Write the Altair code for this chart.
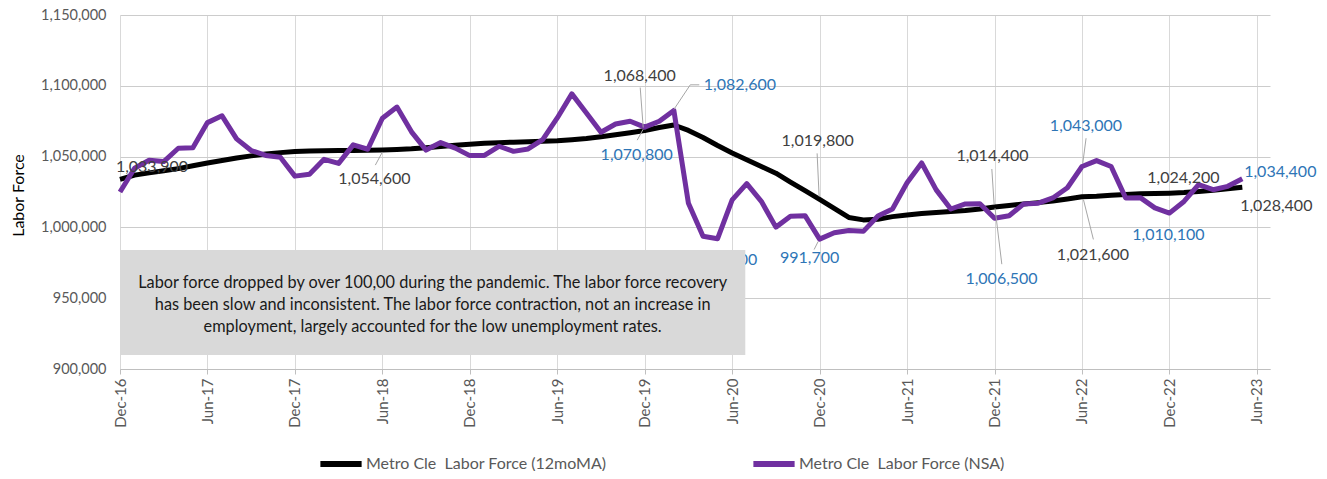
import altair as alt
import pandas as pd

# ---------------- data ----------------
TICK_LABELS = ["Dec-16", "Jun-17", "Dec-17", "Jun-18", "Dec-18", "Jun-19", "Dec-19",
               "Jun-20", "Dec-20", "Jun-21", "Dec-21", "Jun-22", "Dec-22", "Jun-23"]
MONTHS = pd.date_range("2016-12-01", periods=78, freq="MS").strftime("%b-%y").tolist()

MA_12 = [1033900, 1036900, 1038500, 1040000, 1041500, 1043500, 1045500, 1047200, 1049000, 1050500,
         1051800, 1052800, 1053600, 1054000, 1054200, 1054300, 1054300, 1054400, 1054600, 1055000,
         1055500, 1056300, 1057200, 1058000, 1058800, 1059400, 1059800, 1060200, 1060500, 1060800,
         1061200, 1061900, 1062800, 1064000, 1065400, 1066800, 1068400, 1070500, 1072300, 1068500,
         1063500, 1057800, 1052600, 1047800, 1043000, 1038300, 1032000, 1026000, 1019800, 1013500,
         1007000, 1005300, 1005800, 1007600, 1008800, 1009800, 1010600, 1011300, 1012000, 1013000,
         1014400, 1015500, 1016500, 1017500, 1018600, 1020000, 1021600, 1022000, 1022700, 1023300,
         1023800, 1024000, 1024200, 1024600, 1025300, 1026300, 1027300, 1028400]

NSA = [1025000, 1041800, 1047500, 1046500, 1055900, 1056200, 1074000, 1078800, 1062500, 1054300,
       1050800, 1049500, 1036200, 1037600, 1048100, 1045200, 1058300, 1055200, 1077100, 1085000,
       1067500, 1054600, 1059900, 1056000, 1050700, 1050800, 1057300, 1053700, 1055400, 1062000,
       1077300, 1094300, 1080800, 1067200, 1073000, 1075000, 1070800, 1075000, 1082600, 1017000,
       993800, 992000, 1019400, 1030900, 1018400, 1000200, 1007800, 1008300, 991700, 996200,
       997800, 997200, 1008000, 1013000, 1031500, 1045500, 1026500, 1013000, 1016600, 1016700,
       1006500, 1008200, 1016600, 1017100, 1020800, 1028000, 1043000, 1047200, 1043000, 1020800,
       1021000, 1013800, 1010100, 1018300, 1030200, 1026600, 1029000, 1034400]

Y_TICKS = [900000, 950000, 1000000, 1050000, 1100000, 1150000]

SERIES = ["Metro Cle  Labor Force (12moMA)", "Metro Cle  Labor Force (NSA)"]
NOTE = ["Labor force dropped by over 100,00 during the pandemic. The labor force recovery",
        "has been slow and inconsistent. The labor force contraction, not an increase in",
        "employment, largely accounted for the low unemployment rates."]

# labelled points: (series index, month index)
LABELLED = [(0, 0), (0, 18), (0, 36), (1, 36), (1, 38), (0, 48), (1, 48), (1, 41),
            (0, 60), (1, 60), (1, 66), (0, 66), (1, 72), (0, 72), (1, 77), (0, 77)]

# ---------------- layout / style ----------------
W, H = 1150, 354
X_MAX = 78.9
Y_MIN, Y_MAX = 900000, 1150000
PX_X = W / X_MAX
PX_Y = H / (Y_MAX - Y_MIN)
FONT = "Lato"
C_DARK = "#404040"
C_BLUE = "#2E75B6"
C_LEAD = "#a6a6a6"
COLORS = ["#000000", "#7030A0"]

LABEL_STYLE = {
    (0, 0): dict(dx=32, dy=-12, lead=[]),
    (0, 18): dict(dx=-8, dy=29, lead=[((0, 2), (-7, 15))]),
    (0, 36): dict(dx=-5, dy=-55, lead=[((-4.5, -43), (-1.5, -3))]),
    (1, 36): dict(dx=-8, dy=28, lead=[((-7.5, 13), (-1.5, 2))]),
    (1, 38): dict(dx=66, dy=-25, lead=[((0, -1), (16.4, -25.6)), ((16.4, -25.6), (25.4, -25.6))]),
    (0, 48): dict(dx=-2, dy=-58, lead=[((-2.5, -46), (-0.5, -3))]),
    (1, 48): dict(dx=-10, dy=19, lead=[((-1.5, 2.4), (-5.5, 10.4))]),
    (1, 41): dict(dx=10, dy=21, lead=[]),
    (0, 60): dict(dx=-2, dy=-51, lead=[((-2.7, -38), (-0.4, -3))]),
    (1, 60): dict(dx=7, dy=61, lead=[((0.5, -10), (7.3, 46))]),
    (1, 66): dict(dx=4, dy=-41, lead=[((0.8, -3.3), (4.1, -28.3))]),
    (0, 66): dict(dx=11, dy=58, lead=[((1.4, 2.6), (11.4, 42.6))]),
    (1, 72): dict(dx=-1, dy=22, lead=[]),
    (0, 72): dict(dx=14, dy=-15, lead=[]),
    (1, 77): dict(dx=38, dy=-6.5, lead=[]),
    (0, 77): dict(dx=34, dy=19, lead=[]),
}

BOX_X = (0, 42.9)
BOX_Y = (909800, 984000)

# ---------------- build ----------------
vals = [MA_12, NSA]
rows = []
for s, arr in enumerate(vals):
    for i, v in enumerate(arr):
        rows.append({"x": i, "month": MONTHS[i], "y": v, "series": SERIES[s]})
df = pd.DataFrame(rows)

x_label_expr = "[" + ",".join("'%s'" % t for t in TICK_LABELS) + "][round(datum.value/6)]"

x_scale = alt.Scale(domain=[0, X_MAX], nice=False, zero=False)
y_scale = alt.Scale(domain=[Y_MIN, Y_MAX], nice=False, zero=False)

x_axis = alt.Axis(values=list(range(0, 79, 6)), labelExpr=x_label_expr, title=None)
y_axis = alt.Axis(values=Y_TICKS, labelExpr="format(datum.value, ',')", title="Labor Force",
                  titleFontWeight=400, titleFontSize=16, labelFontSize=14.5)

color = alt.Color("series:N", scale=alt.Scale(domain=SERIES, range=COLORS),
                  legend=alt.Legend(orient="none", legendX=197, legendY=425, direction="horizontal",
                                    title=None, symbolType="stroke", symbolStrokeWidth=6,
                                    symbolSize=1700, labelFont=FONT, labelFontSize=16,
                                    labelColor="#595959", columnPadding=134, labelOffset=1,
                                    labelLimit=0,
                                    labelExpr="replace(datum.label, '  ', '\u00a0 ')"))

X = alt.X("x:Q", scale=x_scale, axis=x_axis)
Y = alt.Y("y:Q", scale=y_scale, axis=y_axis)

layers = []
for s in range(2):
    layers.append(
        alt.Chart(df[df.series == SERIES[s]]).mark_line(strokeWidth=5, strokeJoin="round")
        .encode(x=X, y=Y, color=color)
    )

# leader lines
lead_rows = []
for (s, i) in LABELLED:
    v = vals[s][i]
    for (p0, p1) in LABEL_STYLE[(s, i)]["lead"]:
        lead_rows.append({"x": i + p0[0] / PX_X, "y": v - p0[1] / PX_Y,
                          "x2": i + p1[0] / PX_X, "y2": v - p1[1] / PX_Y})
leads = alt.Chart(pd.DataFrame(lead_rows)).mark_rule(color=C_LEAD, strokeWidth=1).encode(
    x=X, y=Y, x2="x2:Q", y2="y2:Q")
layers.append(leads)

# value labels
for (s, i) in LABELLED:
    st = LABEL_STYLE[(s, i)]
    v = vals[s][i]
    d = pd.DataFrame([{"x": i, "y": v, "text": f"{v:,}"}])
    layers.append(
        alt.Chart(d).mark_text(dx=st["dx"], dy=st["dy"], font=FONT, fontSize=16,
                               color=C_DARK if s == 0 else C_BLUE, align="center", baseline="middle")
        .encode(x=X, y=Y, text="text:N")
    )

# note box
box_df = pd.DataFrame([{"x": BOX_X[0], "x2": BOX_X[1], "y": BOX_Y[0], "y2": BOX_Y[1],
                        "text": "\n".join(NOTE)}])
box_df["xc"] = (BOX_X[0] + BOX_X[1]) / 2
box_df["yc"] = (BOX_Y[0] + BOX_Y[1]) / 2 + 14000
box = alt.Chart(box_df).mark_rect(color="#d9d9d9").encode(x=X, x2="x2:Q", y=Y, y2="y2:Q")
box_text = alt.Chart(box_df).mark_text(font=FONT, fontSize=16.3, color="#1a1a1a", lineBreak="\n",
                                       lineHeight=22, align="center", baseline="middle").encode(
    x=alt.X("xc:Q", scale=x_scale, axis=x_axis), y=alt.Y("yc:Q", scale=y_scale, axis=y_axis),
    text="text:N")
layers += [box, box_text]

chart = alt.layer(*layers).properties(
    width=W, height=H,
    background="white",
    autosize=alt.AutoSizeParams(type="none"),
    padding={"left": 112, "top": 7, "right": 49, "bottom": 102},
).configure_view(strokeWidth=0).configure_axisX(
    labelAngle=270, labelAlign="right", labelBaseline="middle", labelFont=FONT, labelFontSize=15,
    labelColor="#595959", labelPadding=4, tickSize=5, tickColor="#bfbfbf",
    domainColor="#bfbfbf", grid=True, gridColor="#d9d9d9",
).configure_axisY(
    labelFont=FONT, labelFontSize=14.5, labelColor="#595959", labelPadding=14, ticks=False,
    domain=False, grid=True, gridColor="#cccccc",
    titleFont=FONT, titleFontSize=16, titleFontWeight=400, titleColor="#000000",
    titleX=-102, titleY=180, titleBaseline="middle", titleAngle=270,
)

chart.save("out.html", embed_options={"renderer": "svg", "actions": False})
